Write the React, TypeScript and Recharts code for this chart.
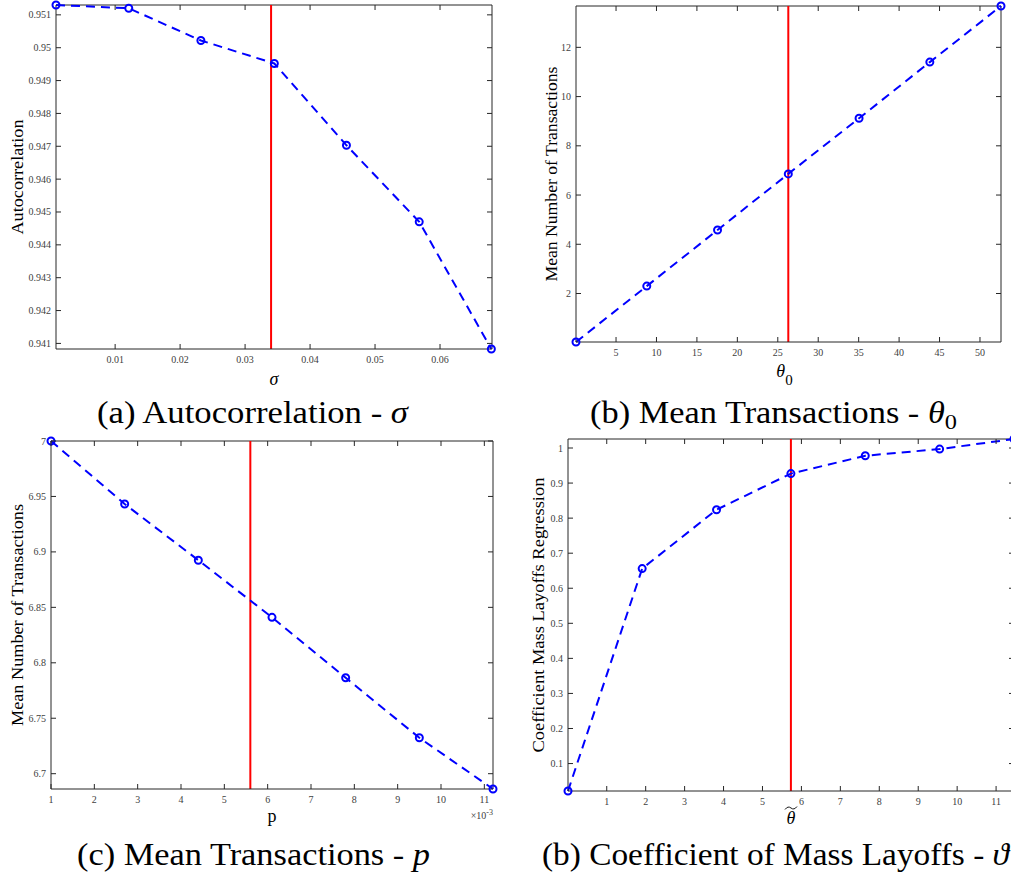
import React from "react";
import { LineChart, Line, XAxis, YAxis, ReferenceLine, Label } from "recharts";

// (a) autocorrelation vs sigma
const sigmaVals = [0.0009, 0.0121, 0.0232, 0.0345, 0.0456, 0.0568, 0.0679];
const autocorrVals = [0.9513, 0.9512, 0.95022, 0.94952, 0.94703, 0.9447, 0.94083];
const sigmaTicks = [0.01, 0.02, 0.03, 0.04, 0.05, 0.06];
const autocorrTicks = [0.941, 0.942, 0.943, 0.944, 0.945, 0.946, 0.947, 0.948, 0.949, 0.95, 0.951];
const sigmaBase = 0.034;

// (b) mean transactions vs theta_0
const theta0Vals = [0.05, 8.8, 17.55, 26.3, 35.05, 43.8, 52.6];
const meanTheta0 = [0.03, 2.3, 4.58, 6.86, 9.12, 11.4, 13.68];
const theta0Ticks = [5, 10, 15, 20, 25, 30, 35, 40, 45, 50];
const meanTheta0Ticks = [2, 4, 6, 8, 10, 12];
const theta0Base = 26.3;

// (c) mean transactions vs p
const pVals = [0.001, 0.0027, 0.0044, 0.0061, 0.0078, 0.0095, 0.0112];
const meanP = [7.0, 6.9432, 6.8925, 6.841, 6.7865, 6.7324, 6.6862];
const pTicks = [0.001, 0.002, 0.003, 0.004, 0.005, 0.006, 0.007, 0.008, 0.009, 0.01, 0.011];
const meanPTicks = [6.7, 6.75, 6.8, 6.85, 6.9, 6.95, 7];
const pBase = 0.0056;

// (d) mass layoffs coefficient vs theta tilde
const thetaTildeVals = [0.005, 1.91, 3.82, 5.73, 7.64, 9.55, 11.46];
const coefVals = [0.0217, 0.656, 0.824, 0.927, 0.978, 0.997, 1.0257];
const thetaTildeTicks = [1, 2, 3, 4, 5, 6, 7, 8, 9, 10, 11];
const coefTicks = [0.1, 0.2, 0.3, 0.4, 0.5, 0.6, 0.7, 0.8, 0.9, 1];
const thetaTildeBase = 5.73;

const SERIF = "Times New Roman";
const AX = "#262626";
const TXT = "#404040";
const BLUE = "#0000ff";
const RED = "#ff0000";

const num = (v: number) => String(parseFloat(v.toFixed(4)));

function Panel(props: any) {
  const { left, top, width, height, clipWidth, mt, mr, yw, xh, xs, ys, xDomain, yDomain, xTicks, yTicks, xFmt, yFmt, base, yLabel, yLabelX, yLabelLen, xLabel } = props;
  const plotH = height - mt - xh;
  const plotW = width - yw - mr;
  const data = xs.map((x: number, i: number) => ({ x, y: ys[i] }));

  const xTick = (p: any) => (
    <g>
      <line x1={p.x} x2={p.x} y1={p.y} y2={p.y - 5} stroke={AX} />
      <line x1={p.x} x2={p.x} y1={p.y - plotH} y2={p.y - plotH + 5} stroke={AX} />
      <text x={p.x} y={p.y + 14} textAnchor="middle" fontSize={10} fill={TXT} fontFamily={SERIF}>
        {xFmt(p.payload.value)}
      </text>
    </g>
  );
  const yTick = (p: any) => (
    <g>
      <line x1={p.x} x2={p.x + 5} y1={p.y} y2={p.y} stroke={AX} />
      <line x1={p.x + plotW} x2={p.x + plotW - 5} y1={p.y} y2={p.y} stroke={AX} />
      <text x={p.x - 5} y={p.y + 3.5} textAnchor="end" fontSize={10} fill={TXT} fontFamily={SERIF}>
        {yFmt(p.payload.value)}
      </text>
    </g>
  );
  const dot = (p: any) => (
    <circle key={p.index} cx={p.cx} cy={p.cy} r={3.5} fill="none" stroke={BLUE} strokeWidth={2} />
  );

  return (
    <div style={{ position: "absolute", left, top, width: clipWidth || width, height, overflow: "hidden" }}>
      <LineChart width={width} height={height} data={data} margin={{ top: mt, right: mr, left: 0, bottom: 0 }}>
        <XAxis
          dataKey="x"
          type="number"
          domain={xDomain}
          ticks={xTicks}
          interval={0}
          height={xh}
          tickLine={false}
          tickSize={0}
          tickMargin={0}
          axisLine={{ stroke: AX }}
          tick={xTick}
        >
          <Label content={(lp: any) => xLabel(lp.viewBox)} />
        </XAxis>
        <YAxis
          dataKey="y"
          type="number"
          domain={yDomain}
          ticks={yTicks}
          interval={0}
          width={yw}
          tickLine={false}
          tickSize={0}
          tickMargin={0}
          axisLine={{ stroke: AX }}
          tick={yTick}
        >
          <Label
            content={(lp: any) => {
              const vb = lp.viewBox;
              const cy = vb.y + vb.height / 2;
              return (
                <text
                  x={yLabelX}
                  y={cy}
                  transform={`rotate(-90, ${yLabelX}, ${cy})`}
                  textAnchor="middle"
                  dominantBaseline="central"
                  fontSize={17.5}
                  textLength={yLabelLen}
                  lengthAdjust="spacingAndGlyphs"
                  fill="#000"
                  fontFamily={SERIF}
                >
                  {yLabel}
                </text>
              );
            }}
          />
        </YAxis>
        <ReferenceLine y={yDomain[1]} stroke={AX} />
        <ReferenceLine x={xDomain[1]} stroke={AX} />
        <ReferenceLine x={base} stroke={RED} strokeWidth={2} />
        <Line
          dataKey="y"
          stroke={BLUE}
          strokeWidth={2}
          strokeDasharray="9 6"
          dot={dot}
          activeDot={false}
          isAnimationActive={false}
        />
      </LineChart>
    </div>
  );
}

function Caption({ x, y, len, children }: any) {
  return (
    <text x={x} y={y} textLength={len} lengthAdjust="spacingAndGlyphs" fontFamily={SERIF} fontSize={31} fill="#000">
      {children}
    </text>
  );
}

export default function App() {
  return (
    <div style={{ position: "absolute", left: 0, top: 0, width: 1011, height: 876, background: "#fff", overflow: "hidden" }}>
      <Panel
        left={0} top={0} width={500} height={394} mt={5} mr={8} yw={56} xh={45}
        xs={sigmaVals} ys={autocorrVals} xDomain={[0.0009, 0.068]} yDomain={[0.94083, 0.9513]}
        xTicks={sigmaTicks} yTicks={autocorrTicks} xFmt={num} yFmt={num} base={sigmaBase}
        yLabel="Autocorrelation" yLabelX={17} yLabelLen={115}
        xLabel={(vb: any) => (
          <text x={vb.x + vb.width / 2} y={vb.y + 36} textAnchor="middle" fontSize={18} fontStyle="italic" fontFamily={SERIF}>σ</text>
        )}
      />
      <Panel
        left={500} top={0} width={511} height={392} mt={6} mr={10} yw={76} xh={50}
        xs={theta0Vals} ys={meanTheta0} xDomain={[0.05, 52.6]} yDomain={[0.03, 13.68]}
        xTicks={theta0Ticks} yTicks={meanTheta0Ticks} xFmt={num} yFmt={num} base={theta0Base}
        yLabel="Mean Number of Transactions" yLabelX={51} yLabelLen={215}
        xLabel={(vb: any) => (
          <text x={vb.x + vb.width / 2 - 4} y={vb.y + 35} textAnchor="middle" fontSize={18} fontFamily={SERIF}>
            <tspan fontStyle="italic">θ</tspan>
            <tspan dy={8} fontSize={15}>0</tspan>
          </text>
        )}
      />
      <Panel
        left={0} top={430} width={500} height={399} mt={11} mr={7} yw={51} xh={40}
        xs={pVals} ys={meanP} xDomain={[0.001, 0.0112]} yDomain={[6.6862, 7.0]}
        xTicks={pTicks} yTicks={meanPTicks} xFmt={(v: number) => String(Math.round(v * 1000))} yFmt={num} base={pBase}
        yLabel="Mean Number of Transactions" yLabelX={17} yLabelLen={222}
        xLabel={(vb: any) => (
          <g>
            <text x={vb.x + vb.width / 2} y={vb.y + 33} textAnchor="middle" fontSize={18} fontFamily={SERIF}>p</text>
            <text x={vb.x + vb.width} y={vb.y + 30} textAnchor="end" fontSize={10} fill={TXT} fontFamily={SERIF}>
              ×10<tspan dy={-4} fontSize={8}>-3</tspan>
            </text>
          </g>
        )}
      />
      <Panel
        left={500} top={430} width={522} clipWidth={511} height={401} mt={9} mr={8} yw={68} xh={40}
        xs={thetaTildeVals} ys={coefVals} xDomain={[0.005, 11.46]} yDomain={[0.0217, 1.0257]}
        xTicks={thetaTildeTicks} yTicks={coefTicks} xFmt={num} yFmt={num} base={thetaTildeBase}
        yLabel="Coefficient Mass Layoffs Regression" yLabelX={38} yLabelLen={275}
        xLabel={(vb: any) => {
          const cx = vb.x + vb.width / 2;
          const ty = vb.y + 17;
          return (
            <g>
              <text x={cx} y={vb.y + 33} textAnchor="middle" fontSize={18} fontStyle="italic" fontFamily={SERIF}>θ</text>
              <path
                d={`M ${cx - 6} ${ty + 1.5} Q ${cx - 3} ${ty - 2.5} ${cx} ${ty} T ${cx + 6} ${ty - 1.5}`}
                fill="none"
                stroke="#000"
                strokeWidth={0.9}
              />
            </g>
          );
        }}
      />
      <svg width={1011} height={876} style={{ position: "absolute", left: 0, top: 0, pointerEvents: "none" }}>
        <Caption x={97} y={423} len={311}>
          (a) Autocorrelation - <tspan fontStyle="italic">σ</tspan>
        </Caption>
        <Caption x={590} y={423} len={367}>
          (b) Mean Transactions - <tspan fontStyle="italic">θ</tspan>
          <tspan dy={6} fontSize={22}>0</tspan>
        </Caption>
        <Caption x={77} y={865} len={353}>
          (c) Mean Transactions - <tspan fontStyle="italic">p</tspan>
        </Caption>
        <Caption x={542} y={865} len={467}>
          (b) Coefficient of Mass Layoffs - <tspan fontStyle="italic">ϑ</tspan>
        </Caption>
      </svg>
    </div>
  );
}
